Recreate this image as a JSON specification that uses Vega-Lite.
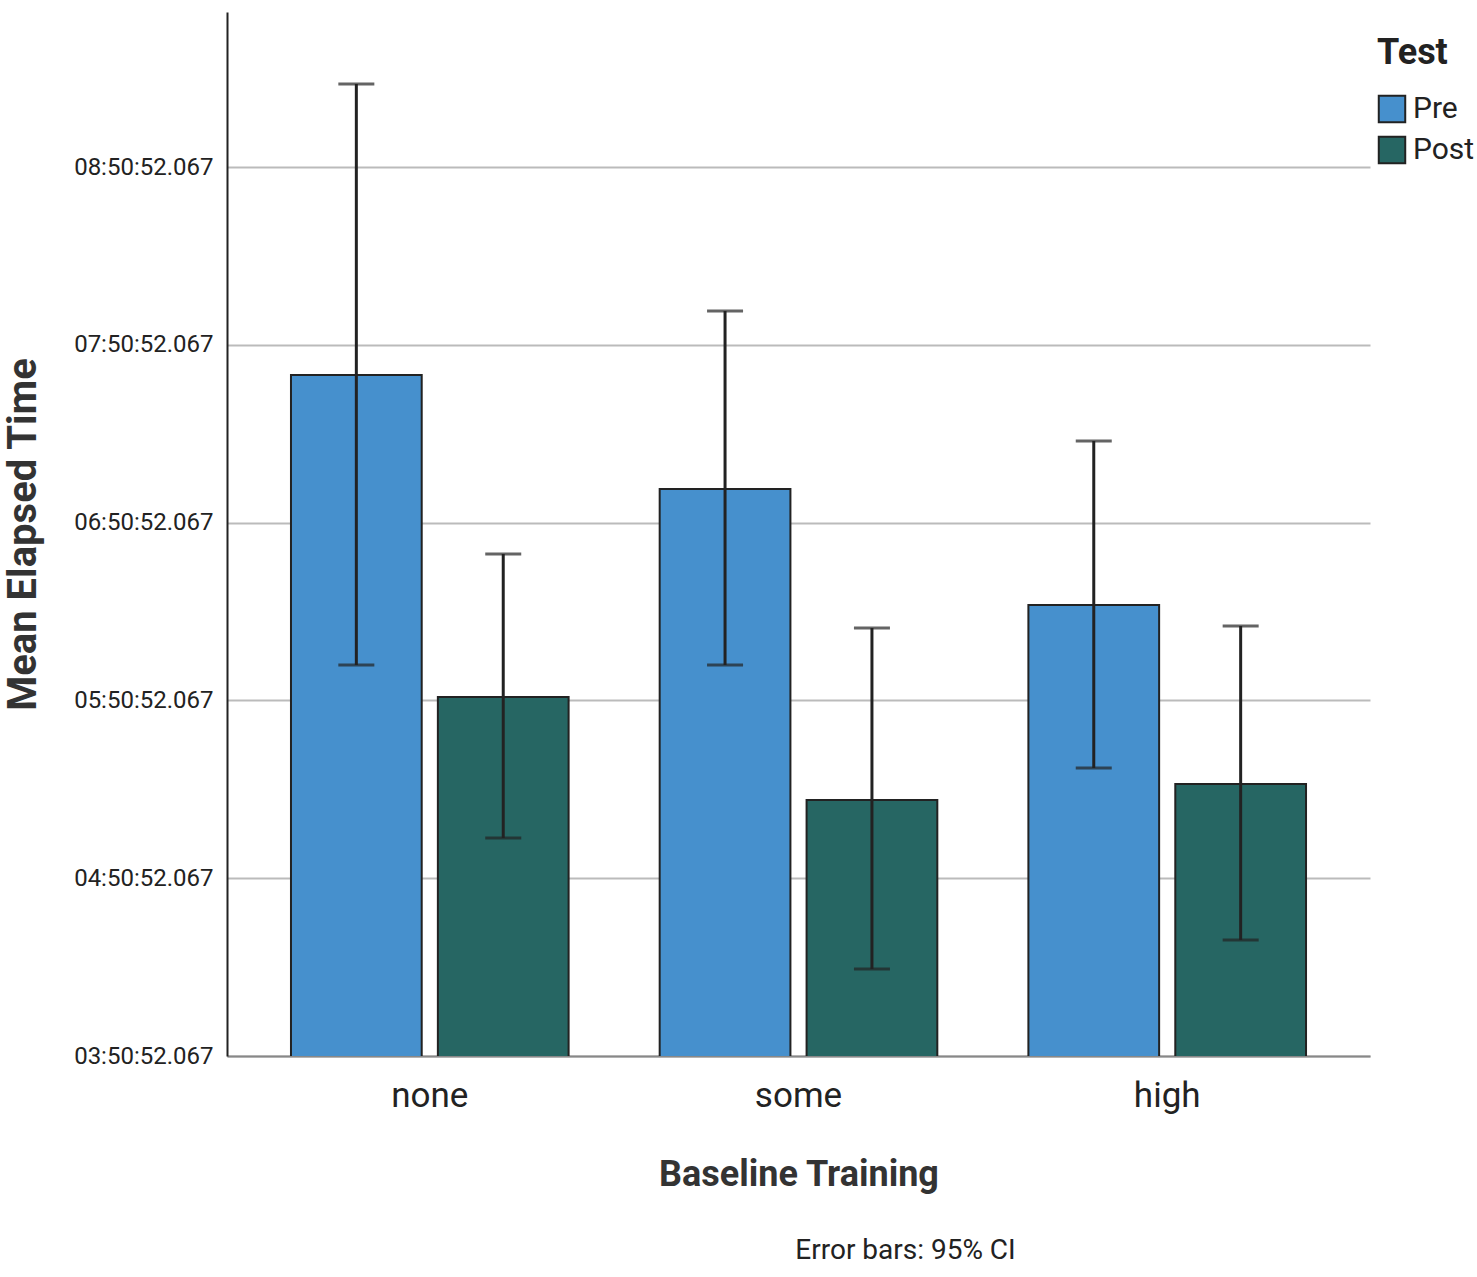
{
  "$schema": "https://vega.github.io/schema/vega-lite/v6.json",
  "autosize": "none",
  "width": 1143,
  "height": 1044,
  "padding": {"left": 227, "top": 12, "right": 107, "bottom": 221},
  "background": "white",
  "title": {
    "text": "Error bars: 95% CI",
    "orient": "bottom",
    "anchor": "middle",
    "dx": 107,
    "offset": 45,
    "font": "Roboto",
    "fontSize": 28,
    "fontWeight": "normal",
    "color": "#222"
  },
  "data": {
    "values": [
      {"training": "none", "test": "Pre", "mean": 27640067, "lo": 21768467, "hi": 33533267},
      {"training": "none", "test": "Post", "mean": 21120467, "lo": 18265667, "hi": 24014867},
      {"training": "some", "test": "Pre", "mean": 25332467, "lo": 21768467, "hi": 28936067},
      {"training": "some", "test": "Post", "mean": 19036067, "lo": 15612467, "hi": 22517267},
      {"training": "high", "test": "Pre", "mean": 22985267, "lo": 19684067, "hi": 26304467},
      {"training": "high", "test": "Post", "mean": 19360067, "lo": 16199267, "hi": 22556867}
    ]
  },
  "encoding": {
    "x": {
      "field": "training",
      "type": "nominal",
      "sort": ["none", "some", "high"],
      "title": "Baseline Training",
      "scale": {"paddingInner": 0, "paddingOuter": 0.05},
      "axis": {
        "labelAngle": 0,
        "labelFont": "Roboto",
        "labelFontSize": 35,
        "labelColor": "#222",
        "labelPadding": 22,
        "ticks": false,
        "domainColor": "#888",
        "domainWidth": 2,
        "titleFont": "Roboto",
        "titleFontSize": 36,
        "titleFontWeight": "bold",
        "titleColor": "#333",
        "titlePadding": 44
      }
    },
    "xOffset": {
      "field": "test",
      "type": "nominal",
      "sort": ["Pre", "Post"],
      "scale": {"paddingInner": 0.11, "paddingOuter": 0.31}
    }
  },
  "layer": [
    {
      "mark": {"type": "bar", "stroke": "#222", "strokeWidth": 2, "clip": true},
      "encoding": {
        "y": {
          "field": "mean",
          "type": "quantitative",
          "title": "Mean Elapsed Time",
          "scale": {"domain": [13852067, 34991267], "nice": false, "zero": false},
          "axis": {
            "values": [13852067, 17452067, 21052067, 24652067, 28252067, 31852067],
            "labelExpr": "utcFormat(datum.value, '%H:%M:%S.%L')",
            "labelFont": "Roboto",
            "labelFontSize": 24,
            "labelColor": "#222",
            "labelPadding": 14,
            "ticks": false,
            "grid": true,
            "gridColor": "#bbb",
            "gridWidth": 2,
            "domainColor": "#222",
            "domainWidth": 2,
            "titleFont": "Roboto",
            "titleFontSize": 40,
            "titleFontWeight": "bold",
            "titleColor": "#333",
            "titlePadding": 30
          }
        },
        "color": {
          "field": "test",
          "type": "nominal",
          "title": "Test",
          "scale": {"domain": ["Pre", "Post"], "range": ["#4690cd", "#266663"]},
          "legend": {
            "orient": "none",
            "legendX": 1150,
            "legendY": 24,
            "symbolType": "square",
            "symbolSize": 700,
            "symbolStrokeColor": "#222",
            "symbolStrokeWidth": 2,
            "labelFont": "Roboto",
            "labelFontSize": 30,
            "labelColor": "#222",
            "labelOffset": 6,
            "rowPadding": 5,
            "titleFont": "Roboto",
            "titleFontSize": 36,
            "titleFontWeight": "bold",
            "titleColor": "#222",
            "titlePadding": 22
          }
        }
      }
    },
    {
      "mark": {"type": "rule", "color": "#222", "strokeWidth": 3},
      "encoding": {
        "y": {"field": "lo", "type": "quantitative"},
        "y2": {"field": "hi"}
      }
    },
    {
      "mark": {"type": "tick", "color": "#222", "size": 36, "thickness": 3},
      "encoding": {
        "y": {"field": "lo", "type": "quantitative"}
      }
    },
    {
      "mark": {"type": "tick", "color": "#222", "size": 36, "thickness": 3},
      "encoding": {
        "y": {"field": "hi", "type": "quantitative"}
      }
    }
  ],
  "config": {
    "view": {"stroke": null}
  }
}
